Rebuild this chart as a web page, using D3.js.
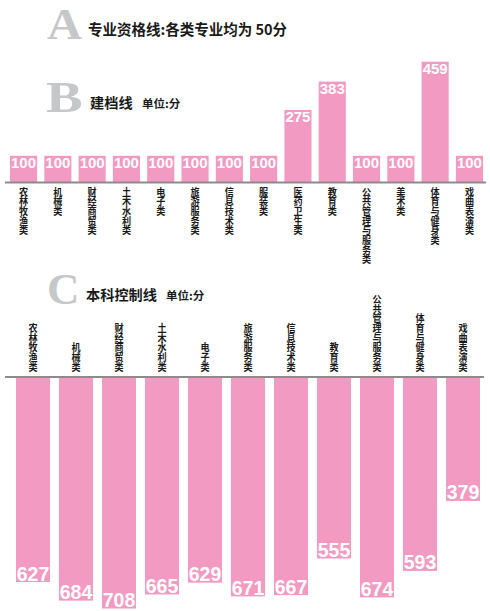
<!DOCTYPE html>
<html>
<head>
<meta charset="utf-8">
<script src="https://cdn.jsdelivr.net/npm/d3@7/dist/d3.min.js"></script>
<style>
  html, body { margin: 0; padding: 0; background: #ffffff; }
  svg { display: block; }
</style>
</head>
<body>
<div id="chart"></div>
<script>
// ---- Data ----
const headerA = "专业资格线:各类专业均为 50分";
const titleB = "建档线";
const titleC = "本科控制线";
const unitText = "单位:分";

const bCategories = ["农林牧渔类", "机械类", "财经商贸类", "土木水利类", "电子类", "旅游服务类", "信息技术类", "服装类", "医药卫生类", "教育类", "公共管理与服务类", "美术类", "体育与健身类", "戏曲表演类"];
const bValues = [100, 100, 100, 100, 100, 100, 100, 100, 275, 383, 100, 100, 459, 100];

const cCategories = ["农林牧渔类", "机械类", "财经商贸类", "土木水利类", "电子类", "旅游服务类", "信息技术类", "教育类", "公共管理与服务类", "体育与健身类", "戏曲表演类"];
const cValues = [627, 684, 708, 665, 629, 671, 667, 555, 674, 593, 379];

// ---- Layout ----
const W = 490, H = 611;
const pink = "#F39AC2";
const grey = "#8c8c8c";
const letterGrey = "#c6c7c9";
const textDark = "#1a1a1a";
const cjk = "'Noto Sans CJK SC', 'Noto Sans', sans-serif";
const latin = "'Liberation Sans', Arial, sans-serif";
const serif = "'Liberation Serif', 'DejaVu Serif', serif";

const svg = d3.select("#chart").append("svg")
  .attr("width", W).attr("height", H);

// ---- Section headers ----
function bigLetter(ch, x, y, sx) {
  svg.append("text")
    .attr("transform", `translate(${x},${y}) scale(${sx},1)`)
    .attr("font-family", serif).attr("font-weight", 700)
    .attr("font-size", 45).attr("fill", letterGrey)
    .text(ch);
}
bigLetter("A", 47, 39, 1.08);
bigLetter("B", 46, 112, 1.22);
bigLetter("C", 47, 304, 1.0);

svg.append("text")
  .attr("x", 88).attr("y", 35)
  .attr("font-family", cjk).attr("font-weight", 700)
  .attr("font-size", 14.5).attr("fill", textDark)
  .text(headerA);

function sectionTitle(t, x, y, ux) {
  svg.append("text")
    .attr("x", x).attr("y", y)
    .attr("font-family", cjk).attr("font-weight", 700)
    .attr("font-size", 14.2).attr("fill", textDark)
    .text(t);
  svg.append("text")
    .attr("x", ux).attr("y", y)
    .attr("font-family", cjk).attr("font-weight", 700)
    .attr("font-size", 11.5).attr("fill", textDark)
    .text(unitText);
}
sectionTitle(titleB, 90, 108, 142);
sectionTitle(titleC, 86, 300, 166);

// vertical label helper (single text element, vertical writing)
function verticalLabel(parent, cx, y, text, anchor) {
  parent.append("g")
    .attr("transform", `translate(${cx},0) scale(0.94,1)`)
    .append("text")
    .attr("x", 0).attr("y", y)
    .style("writing-mode", "vertical-rl")
    .style("text-orientation", "upright")
    .attr("text-anchor", anchor)
    .attr("font-family", cjk).attr("font-weight", 700)
    .attr("font-size", 9.7).attr("fill", textDark)
    .text(text);
}

// ---- Chart B (bars upward) ----
const bBase = 182;
const xB = d3.scaleBand().domain(bCategories).range([10, 483]).paddingInner(0.21).paddingOuter(0);
const yB = d3.scaleLinear().domain([0, 459]).range([bBase, bBase - 120.3]);

const gB = svg.append("g");
gB.selectAll("rect.bar").data(bCategories).join("rect")
  .attr("class", "bar")
  .attr("x", d => xB(d))
  .attr("width", xB.bandwidth())
  .attr("y", (d, i) => yB(bValues[i]))
  .attr("height", (d, i) => bBase - yB(bValues[i]))
  .attr("fill", pink);

gB.selectAll("text.val").data(bCategories).join("text")
  .attr("class", "val")
  .attr("x", d => xB(d) + xB.bandwidth() / 2)
  .attr("y", (d, i) => yB(bValues[i]) + 12)
  .attr("text-anchor", "middle")
  .attr("font-family", latin).attr("font-weight", 700)
  .attr("font-size", 15).attr("fill", "#ffffff")
  .text((d, i) => bValues[i]);

gB.append("line")
  .attr("x1", 5).attr("x2", 486)
  .attr("y1", bBase + 0.5).attr("y2", bBase + 0.5)
  .attr("stroke", grey).attr("stroke-width", 2);

bCategories.forEach(cat => {
  verticalLabel(gB, xB(cat) + xB.bandwidth() / 2, 187, cat, "start");
});

// ---- Chart C (bars hanging downward) ----
const cBase = 377;
const xC = d3.scaleBand().domain(cCategories).range([16, 480]).paddingInner(0.21).paddingOuter(0);
const yC = d3.scaleLinear().domain([0, 708]).range([cBase, cBase + 231.5]);

const gC = svg.append("g");
gC.selectAll("rect.bar").data(cCategories).join("rect")
  .attr("class", "bar")
  .attr("x", d => xC(d))
  .attr("width", xC.bandwidth())
  .attr("y", cBase)
  .attr("height", (d, i) => yC(cValues[i]) - cBase)
  .attr("fill", pink);

gC.selectAll("text.val").data(cCategories).join("text")
  .attr("class", "val")
  .attr("x", d => xC(d) + xC.bandwidth() / 2)
  .attr("y", (d, i) => yC(cValues[i]) - 1.5)
  .attr("text-anchor", "middle")
  .attr("font-family", latin).attr("font-weight", 700)
  .attr("font-size", 19.5).attr("fill", "#ffffff")
  .text((d, i) => cValues[i]);

gC.append("line")
  .attr("x1", 5).attr("x2", 484)
  .attr("y1", cBase).attr("y2", cBase)
  .attr("stroke", grey).attr("stroke-width", 2);

cCategories.forEach(cat => {
  verticalLabel(gC, xC(cat) + xC.bandwidth() / 2, 372, cat, "end");
});
</script>
</body>
</html>
